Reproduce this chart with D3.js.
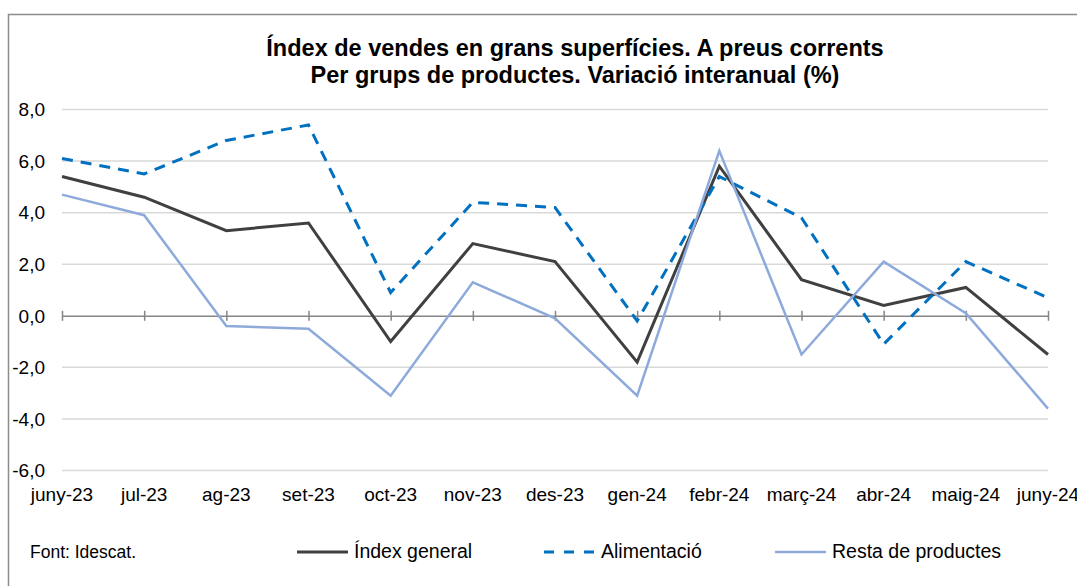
<!DOCTYPE html>
<html>
<head>
<meta charset="utf-8">
<script src="https://cdn.jsdelivr.net/npm/d3@7"></script>
<style>
  body { margin: 0; background: #fff; }
  text { font-family: "Liberation Sans", Arial, sans-serif; fill: #000; }
</style>
</head>
<body>
<svg id="chart" width="1077" height="586"></svg>
<script>
const months = ["juny-23", "jul-23", "ag-23", "set-23", "oct-23", "nov-23", "des-23",
                "gen-24", "febr-24", "març-24", "abr-24", "maig-24", "juny-24"];
const indexGeneral = [5.4, 4.6, 3.3, 3.6, -1.0, 2.8, 2.1, -1.8, 5.8, 1.4, 0.4, 1.1, -1.5];
const alimentacio = [6.1, 5.5, 6.8, 7.4, 0.9, 4.4, 4.2, -0.2, 5.4, 3.8, -1.1, 2.1, 0.7];
const restaProductes = [4.7, 3.9, -0.4, -0.5, -3.1, 1.3, -0.1, -3.1, 6.4, -1.5, 2.1, 0.1, -3.6];
const yTicks = [-6, -4, -2, 0, 2, 4, 6, 8];
const titleLines = ["Índex de vendes en grans superfícies. A preus corrents",
                    "Per grups de productes. Variació interanual (%)"];

const series = [
  { name: "Índex general", values: indexGeneral, color: "#404040", width: 3, dash: null },
  { name: "Alimentació", values: alimentacio, color: "#0070c0", width: 3, dash: "11,8" },
  { name: "Resta de productes", values: restaProductes, color: "#8eaadb", width: 2.5, dash: null }
];

const svg = d3.select("#chart");

// outer chart frame (cut off at right and bottom like the original)
svg.append("rect")
   .attr("x", 8.5).attr("y", 14.5)
   .attr("width", 1200).attr("height", 700)
   .attr("fill", "none")
   .attr("stroke", "#8c8c8c")
   .attr("stroke-width", 1.5);

const x = d3.scalePoint().domain(months).range([62, 1048]);
const y = d3.scaleLinear().domain([-6, 8]).range([470.5, 109.5]);

// gridlines
svg.append("g")
   .selectAll("line")
   .data(yTicks.filter(d => d !== 0))
   .enter()
   .append("line")
   .attr("x1", 62).attr("x2", 1048)
   .attr("y1", d => y(d)).attr("y2", d => y(d))
   .attr("stroke", "#d9d9d9")
   .attr("stroke-width", 1.5);

// y labels
svg.append("g")
   .selectAll("text")
   .data(yTicks)
   .enter()
   .append("text")
   .attr("x", 45)
   .attr("y", d => y(d))
   .attr("dy", "0.36em")
   .attr("text-anchor", "end")
   .style("font-size", "19px")
   .text(d => d3.format(".1f")(d).replace(".", ",").replace("−", "-"));

// zero axis with crossing tick marks
let zeroAxis = d3.axisBottom(x).tickSizeInner(5).tickSizeOuter(0).tickFormat("");
let axisG = svg.append("g")
               .attr("transform", `translate(0,${y(0)})`)
               .call(zeroAxis);
axisG.select(".domain").attr("stroke", "#868686").attr("stroke-width", 1.5);
axisG.selectAll(".tick line")
     .attr("y1", -5).attr("y2", 5)
     .attr("stroke", "#868686").attr("stroke-width", 1.5);

// x labels at the bottom of the plot
svg.append("g")
   .selectAll("text")
   .data(months)
   .enter()
   .append("text")
   .attr("x", d => x(d))
   .attr("y", 501)
   .attr("text-anchor", "middle")
   .style("font-size", "19px")
   .text(d => d);

// lines
let line = (values) => d3.line()
  .x((v, i) => x(months[i]))
  .y(v => y(v))(values);

series.forEach((s) => {
  svg.append("path")
     .attr("d", line(s.values))
     .attr("fill", "none")
     .attr("stroke", s.color)
     .attr("stroke-width", s.width)
     .attr("stroke-dasharray", s.dash)
     .attr("stroke-linejoin", "miter");
});

// title
svg.append("g")
   .selectAll("text")
   .data(titleLines)
   .enter()
   .append("text")
   .attr("x", 575)
   .attr("y", (d, i) => 56 + i * 27)
   .attr("text-anchor", "middle")
   .style("font-size", "23.5px")
   .style("font-weight", "bold")
   .text(d => d);

// source
svg.append("text")
   .attr("x", 30).attr("y", 558)
   .style("font-size", "17.5px")
   .text("Font: Idescat.");

// legend
const legendX = [297, 544, 775];
let legendRows = svg.selectAll(".legend")
  .data(series)
  .enter()
  .append("g")
  .attr("class", "legend")
  .attr("transform", (d, i) => `translate(${legendX[i]},552)`);

legendRows.append("line")
  .attr("x1", 0).attr("x2", 51)
  .attr("y1", 0).attr("y2", 0)
  .attr("stroke", d => d.color)
  .attr("stroke-width", d => d.width)
  .attr("stroke-dasharray", d => d.dash ? "10,10" : null);

legendRows.append("text")
  .attr("x", 57).attr("y", 6)
  .style("font-size", "19.5px")
  .text(d => d.name);
</script>
</body>
</html>
